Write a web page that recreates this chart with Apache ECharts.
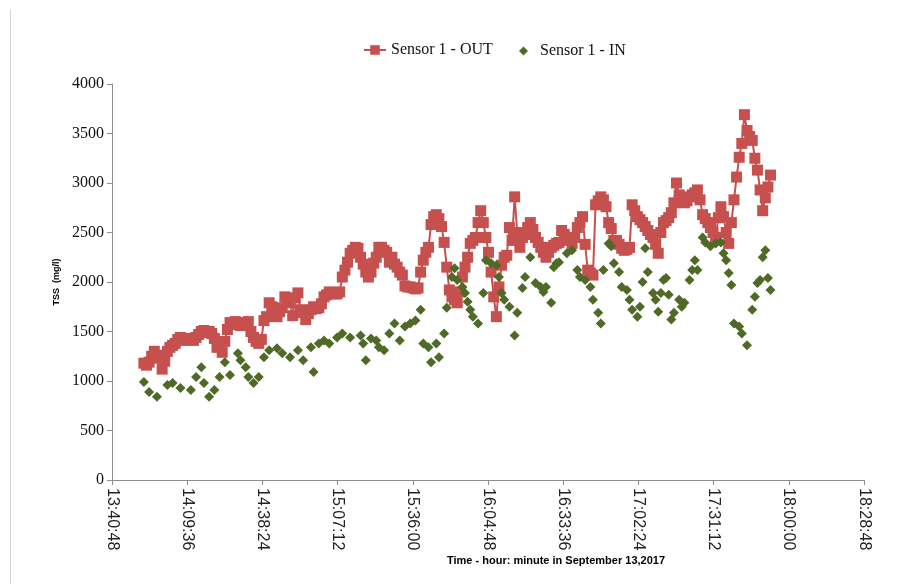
<!DOCTYPE html>
<html>
<head>
<meta charset="utf-8">
<script src="https://cdn.jsdelivr.net/npm/echarts@6/dist/echarts.min.js"></script>
<style>
  html, body { margin: 0; padding: 0; background: #ffffff; }
  #chart { width: 899px; height: 584px; }
</style>
</head>
<body>
<div id="chart"></div>
<script>
// Time axis: 13:40:48 to 18:28:48, one tick every 28 min 48 s
const axisStart = '13:40:48';
const axisEnd = '18:28:48';
const tickStepSec = 1728;

// Sensor 1 - OUT: one reading per minute from 13:53 to 17:53
const outStart = '13:53:00';
const outStepSec = 60;
const outValues = [
  1180, 1160, 1190, 1250, 1300, 1260, 1230, 1120, 1200, 1300,
  1340, 1360, 1380, 1420, 1440, 1410, 1420, 1430, 1420, 1410,
  1440, 1470, 1500, 1510, 1490, 1500, 1480, 1430, 1340, 1350,
  1290, 1400, 1520, 1590, 1570, 1600, 1590, 1560, 1580, 1580,
  1600, 1500, 1440, 1400, 1380, 1420, 1610, 1650, 1790, 1750,
  1700, 1650, 1700, 1740, 1850, 1820, 1790, 1660, 1840, 1890,
  1720, 1690, 1620, 1680, 1720, 1750, 1730, 1740, 1780, 1850,
  1870, 1900, 1890, 1880, 1880, 1900, 2050, 2120, 2200, 2290,
  2320, 2350, 2340, 2250, 2180, 2100, 2050, 2100, 2190, 2250,
  2350, 2350, 2320, 2300, 2200, 2250, 2180, 2150, 2100, 2070,
  1960, 1950, 1950, 1940, 1930, 1940, 2100, 2220, 2300, 2350,
  2580, 2660, 2680, 2640, 2560, 2400, 2150, 1920, 1850, 1820,
  1790, 1900, 2050, 2150, 2250, 2390, 2420, 2450, 2600, 2720,
  2600, 2450, 2300, 2100, 1850, 1650, 1950, 2170, 2250, 2270,
  2550, 2420, 2860, 2500, 2350, 2450, 2480, 2550, 2600, 2530,
  2450, 2400, 2350, 2300, 2250, 2300, 2350, 2370, 2390, 2400,
  2520, 2480, 2450, 2420, 2390, 2450, 2550, 2600, 2660, 2380,
  2120, 2090, 2070, 2780, 2820, 2860, 2830, 2760, 2600, 2540,
  2420, 2420, 2380, 2340, 2320, 2330, 2350, 2780, 2720, 2660,
  2630, 2600, 2560, 2520, 2480, 2450, 2380, 2290, 2500, 2600,
  2620, 2650, 2700, 2800, 3000, 2880, 2830, 2800, 2820, 2860,
  2880, 2900, 2930, 2830, 2680, 2640, 2600, 2550, 2500, 2450,
  2650, 2760, 2660, 2500, 2390, 2600, 2830, 3060, 3260, 3400,
  3690, 3530, 3470, 3430, 3250, 3130, 2930, 2720, 2850, 2960,
  3080
];

// Sensor 1 - IN: logged readings (clock time, TSS mg/l)
const inTimes = [
  '13:53', '13:55', '13:58', '14:02', '14:04', '14:07', '14:11', '14:13', '14:15', '14:16',
  '14:18', '14:20', '14:22', '14:24', '14:26', '14:29', '14:30', '14:32', '14:33', '14:35',
  '14:37', '14:39', '14:41', '14:44', '14:46', '14:49', '14:52', '14:54', '14:57', '14:58',
  '15:00', '15:02', '15:04', '15:07', '15:09', '15:12', '15:16', '15:17', '15:18', '15:20',
  '15:22', '15:23', '15:25', '15:27', '15:29', '15:31', '15:33', '15:35', '15:37', '15:39',
  '15:40', '15:42', '15:43', '15:45', '15:46', '15:48', '15:49', '15:51', '15:52', '15:53',
  '15:55', '15:56', '15:57', '15:58', '15:59', '16:01', '16:03', '16:04', '16:06', '16:08',
  '16:09', '16:10', '16:11', '16:13', '16:15', '16:16', '16:18', '16:19', '16:21', '16:23',
  '16:25', '16:26', '16:27', '16:29', '16:30', '16:31', '16:32', '16:35', '16:37', '16:39',
  '16:40', '16:42', '16:44', '16:45', '16:47', '16:48', '16:49', '16:51', '16:52', '16:53',
  '16:55', '16:56', '16:58', '16:59', '17:00', '17:02', '17:03', '17:04', '17:05', '17:06',
  '17:08', '17:09', '17:10', '17:11', '17:12', '17:13', '17:14', '17:15', '17:16', '17:18',
  '17:19', '17:20', '17:22', '17:23', '17:24', '17:25', '17:27', '17:28', '17:30', '17:32',
  '17:34', '17:35', '17:36', '17:37', '17:38', '17:39', '17:41', '17:42', '17:44', '17:46',
  '17:47', '17:48', '17:49', '17:50', '17:51', '17:52', '17:53'
];
const inValues = [
  990, 890, 840, 960, 980, 930, 910, 1040, 1140, 980,
  840, 910, 1040, 1190, 1060, 1280, 1210, 1140, 1040, 980,
  1040, 1240, 1310, 1330, 1280, 1240, 1310, 1210, 1340, 1090,
  1380, 1410, 1380, 1440, 1480, 1440, 1460, 1380, 1210, 1430,
  1410, 1340, 1310, 1480, 1580, 1410, 1550, 1580, 1610, 1720,
  1380, 1340, 1190, 1380, 1240, 1480, 1740, 2050, 2140, 2020,
  1950, 1890, 1800, 1720, 1650, 1580, 1890, 2220, 2190, 2170,
  2050, 1890, 1820, 1750, 1460, 1690, 1940, 2050, 2250, 1990,
  1950, 1900, 1950, 1790, 2150, 2190, 2200, 2290, 2320, 2120,
  2050, 2020, 1950, 1820, 1690, 1580, 2120, 2390, 2360, 2190,
  2100, 1950, 1920, 1820, 1720, 1650, 1750, 2000, 2340, 2100,
  1890, 1820, 1700, 1890, 2020, 2040, 1870, 1620, 1690, 1820,
  1750, 1790, 2020, 2120, 2220, 2120, 2450, 2400, 2360, 2390,
  2400, 2290, 2220, 2090, 1970, 1580, 1550, 1480, 1360, 1720,
  1850, 1990, 2020, 2250, 2320, 2040, 1920
];

// Y axis range (TSS, mg/l)
const yMin = 0, yMax = 4000, yStep = 500;

function toSec(t) {
  const p = t.split(':').map(Number);
  return p[0] * 3600 + p[1] * 60 + (p[2] || 0);
}
function pad(n) { return (n < 10 ? '0' : '') + n; }
function toClock(sec) {
  const h = Math.floor(sec / 3600);
  const m = Math.floor((sec % 3600) / 60);
  const s = Math.round(sec % 60);
  return h + ':' + pad(m) + ':' + pad(s);
}

const origin = toSec(axisStart);
const span = toSec(axisEnd) - origin;

const outData = outValues.map((v, i) => [toSec(outStart) + i * outStepSec - origin, v]);
const inData = inValues.map((v, i) => [toSec(inTimes[i]) - origin, v]);

const RED = '#C6504E';
const GREEN = '#4F6A26';
const AXIS = '#8e8e8e';
const legendText = { fontFamily: 'Liberation Serif', fontSize: 16, color: '#111' };

const chart = echarts.init(document.getElementById('chart'), null, { renderer: 'canvas' });
chart.setOption({
  backgroundColor: '#ffffff',
  animation: false,
  legend: [
    {
      left: 363,
      top: 42,
      padding: 0,
      itemWidth: 22,
      itemHeight: 12,
      textStyle: legendText,
      data: ['Sensor 1 - OUT']
    },
    {
      left: 519,
      top: 43,
      padding: 0,
      itemWidth: 9,
      itemHeight: 9,
      icon: 'diamond',
      textStyle: Object.assign({ padding: [0, 0, 0, 7] }, legendText),
      data: ['Sensor 1 - IN']
    }
  ],
  grid: { left: 112, right: 35, top: 84, bottom: 104, containLabel: false },
  xAxis: {
    type: 'value',
    min: 0,
    max: span,
    interval: tickStepSec,
    axisLine: { show: true, onZero: false, lineStyle: { color: AXIS, width: 1 } },
    axisTick: { show: true, inside: false, length: 5, lineStyle: { color: AXIS } },
    splitLine: { show: false },
    axisLabel: {
      rotate: -90,
      margin: 8,
      fontFamily: 'Liberation Sans',
      fontSize: 16,
      color: '#222',
      showMinLabel: true,
      showMaxLabel: true,
      formatter: v => toClock(origin + v)
    }
  },
  yAxis: {
    type: 'value',
    min: yMin,
    max: yMax,
    interval: yStep,
    name: 'TSS  (mg/l)',
    nameLocation: 'middle',
    nameGap: 50,
    nameRotate: 90,
    nameTextStyle: { fontFamily: 'Liberation Sans', fontSize: 9, fontWeight: 'bold', color: '#000' },
    axisLine: { show: true, lineStyle: { color: AXIS, width: 1 } },
    axisTick: { show: true, inside: false, length: 5, lineStyle: { color: AXIS } },
    splitLine: { show: false },
    axisLabel: {
      margin: 8,
      fontFamily: 'Liberation Serif',
      fontSize: 16,
      color: '#111',
      formatter: v => String(v)
    }
  },
  graphic: [
    {
      type: 'text',
      left: 447,
      top: 555,
      style: {
        text: 'Time - hour: minute in September 13,2017',
        font: 'bold 11px "Liberation Sans"',
        fill: '#000'
      }
    },
    {
      type: 'line',
      shape: { x1: 10.5, y1: 10, x2: 10.5, y2: 584 },
      style: { stroke: '#d0d0d0', lineWidth: 1 }
    }
  ],
  series: [
    {
      name: 'Sensor 1 - OUT',
      type: 'line',
      data: outData,
      symbol: 'rect',
      symbolSize: 11,
      showAllSymbol: true,
      itemStyle: { color: RED },
      lineStyle: { color: RED, width: 2 },
      z: 2
    },
    {
      name: 'Sensor 1 - IN',
      type: 'scatter',
      data: inData,
      symbol: 'diamond',
      symbolSize: 10,
      itemStyle: { color: GREEN, opacity: 1 },
      z: 3
    }
  ]
});
</script>
</body>
</html>
